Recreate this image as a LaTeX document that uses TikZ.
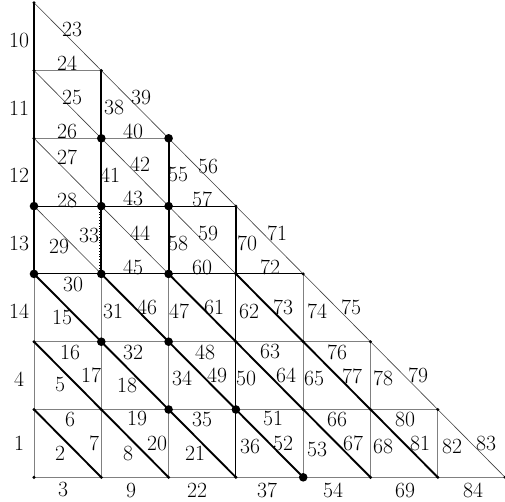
\documentclass[tikz,border=0pt]{standalone}
\begin{document}
\begin{tikzpicture}[x=1pt,y=-1pt,
  gedge/.style={draw=black!50,line width=1pt},
  bedge/.style={draw=black,line width=1pt},
  tedge/.style={draw=black,line width=1.9pt},
  hedge/.style={draw=black!75,line width=0.6pt},
  lbl/.style={inner sep=0pt,font=\fontsize{21.7}{26}\selectfont}]
\useasboundingbox (0,0) rectangle (505,501);
% vertices
\foreach \i in {0,...,7}{
  \pgfmathtruncatemacro\jm{7-\i}
  \foreach \j in {0,...,\jm}{
    \coordinate (v\i\j) at ({34+67.3*\i},{477.3-67.8*\j});
  }
}
% horizontals
\foreach \j in {0,1,2,5,6}{
  \pgfmathtruncatemacro\im{6-\j}
  \foreach \i in {0,...,\im}{
    \pgfmathtruncatemacro\ii{\i+1}
    \draw[gedge] (v\i\j) -- (v\ii\j);
  }
}
\foreach \j in {3,4}{
  \pgfmathtruncatemacro\im{6-\j}
  \foreach \i in {0,...,\im}{
    \pgfmathtruncatemacro\ii{\i+1}
    \draw[bedge] (v\i\j) -- (v\ii\j);
  }
}
% verticals
\foreach \i/\j in {0/0,0/1,0/2,1/0,1/1,1/2,2/0,2/1,2/2,4/0,4/1,4/2,5/0,5/1,6/0}{
  \pgfmathtruncatemacro\jj{\j+1}
  \draw[gedge] (v\i\j) -- (v\i\jj);
}
\foreach \i/\j in {3/0,3/1,3/2}{
  \pgfmathtruncatemacro\jj{\j+1}
  \draw[bedge] (v\i\j) -- (v\i\jj);
}
\foreach \i/\j in {0/3,0/4,0/5,0/6,1/3,1/4,1/5,2/3,2/4,3/3}{
  \pgfmathtruncatemacro\jj{\j+1}
  \draw[tedge] (v\i\j) -- (v\i\jj);
}
\draw[dotted,line width=0.8pt] ([xshift=-2.4pt]v13) -- ([xshift=-2.4pt]v14);
% diagonals
\foreach \i in {0,...,6}{
  \pgfmathtruncatemacro\jm{6-\i}
  \foreach \j in {0,...,\jm}{
    \pgfmathtruncatemacro\ii{\i+1}
    \pgfmathtruncatemacro\jj{\j+1}
    \pgfmathtruncatemacro\k{\i+\j}
    \ifnum\j<3 \ifnum\k<6 \draw[tedge] (v\i\jj) -- (v\ii\j); \else \draw[hedge] (v\i\jj) -- (v\ii\j); \fi
    \else \draw[hedge] (v\i\jj) -- (v\ii\j); \fi
  }
}
% dots
\foreach \i in {0,...,7}{
  \pgfmathtruncatemacro\jm{7-\i}
  \foreach \j in {0,...,\jm}{
    \fill (v\i\j) circle (1.7pt);
  }
}
\foreach \v in {15,25,04,14,24,03,13,23,12,22,21,31,40}{
  \fill (v\v) circle (4.3pt);
}
% labels
\foreach \n/\x/\y in {1/19/443,2/60/453,3/63/489,4/19/379,5/60/385,6/70/419,7/94/443,8/128/453,9/131/490,
 10/19/40,11/19/108,12/19/175,13/19/243,14/19/311,15/62/317,16/70/352,17/91/375,18/127/385,19/137/418,
 20/157/443,21/195/453,22/197/490,23/72/29,24/67/63,25/72/97,26/67/131,27/67/157,28/67/200,29/59/246,
 30/73/284,31/113/311,32/133/352,33/89/235,34/182/378,35/202/419,36/250/446,37/267/490,38/114/107,39/141/97,
 40/133/131,41/110/175,42/140/164,43/133/198,44/140/233,45/133/267,46/147/307,47/179/311,48/205/352,49/217/375,
 50/246/378,51/273/418,52/283/443,53/317/449,54/333/490,55/178/175,56/208/166,57/202/199,58/178/243,59/208/233,
 60/202/267,61/214/307,62/249/311,63/270/351,64/286/375,65/314/378,66/337/419,67/353/443,68/383/446,69/405/490,
 70/247/243,71/277/233,72/270/267,73/283/307,74/317/311,75/351/307,76/337/352,77/352/376,78/383/378,79/418/375,
 80/405/419,81/420/443,82/452/446,83/486/443,84/473/490}{
  \node[lbl] (l\n) at (\x,\y) {\n};
}
\end{tikzpicture}
\end{document}
